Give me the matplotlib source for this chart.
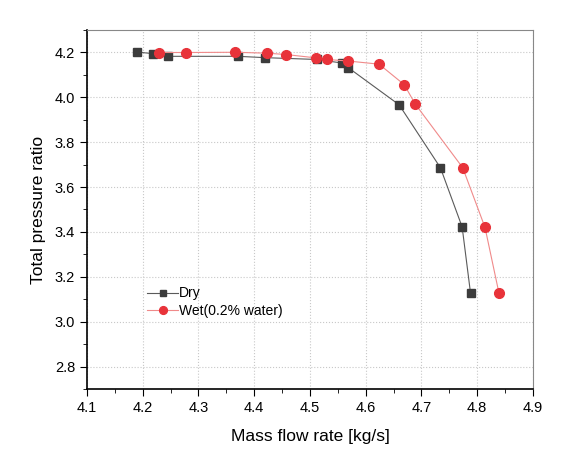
import matplotlib
matplotlib.use('Agg')
import matplotlib.pyplot as plt
from matplotlib.ticker import MultipleLocator

plt.rcParams['font.family'] = ['Liberation Sans', 'DejaVu Sans']

# Dry
dry_x = [4.190, 4.218, 4.246, 4.371, 4.420, 4.512, 4.558, 4.569, 4.660, 4.734, 4.773, 4.788]
dry_y = [4.201, 4.194, 4.182, 4.182, 4.176, 4.168, 4.152, 4.131, 3.966, 3.686, 3.422, 3.128]

# Wet (0.2% water)
wet_x = [4.229, 4.277, 4.366, 4.423, 4.457, 4.511, 4.530, 4.569, 4.624, 4.669, 4.689, 4.774, 4.814, 4.839]
wet_y = [4.199, 4.199, 4.200, 4.196, 4.190, 4.175, 4.168, 4.161, 4.147, 4.056, 3.969, 3.686, 3.420, 3.128]

fig = plt.figure(figsize=(5.61, 4.66), dpi=100)
ax = fig.add_axes([0.155, 0.165, 0.795, 0.771])

ax.plot(dry_x, dry_y, color='#5a5a5a', lw=0.8, marker='s', ms=6,
        mfc='#3c3c3c', mec='#3c3c3c', label='Dry')
ax.plot(wet_x, wet_y, color='#f08a8a', lw=0.8, marker='o', ms=7,
        mfc='#e8333a', mec='#e8333a', label='Wet(0.2% water)')

ax.set_xlim(4.1, 4.9)
ax.set_ylim(2.7, 4.3)
ax.xaxis.set_major_locator(MultipleLocator(0.1))
ax.xaxis.set_minor_locator(MultipleLocator(0.05))
ax.yaxis.set_major_locator(MultipleLocator(0.2))
ax.yaxis.set_minor_locator(MultipleLocator(0.1))
ax.grid(True, which='major', ls=':', color='#c8c8c8', lw=0.8)
ax.set_axisbelow(True)

ax.tick_params(which='both', direction='out', labelsize=10.5, top=False, right=False)
ax.tick_params(which='major', length=5)
ax.tick_params(which='minor', length=3)
for s in ['top', 'right']:
    ax.spines[s].set_color('#888888')
for s in ['left', 'bottom']:
    ax.spines[s].set_linewidth(1.2)

ax.set_xlabel('Mass flow rate [kg/s]', fontsize=12.5, labelpad=10)
ax.set_ylabel('Total pressure ratio', fontsize=12.5, labelpad=6)

ax.legend(loc='upper left', bbox_to_anchor=(0.12, 0.305), frameon=False,
          fontsize=10, handlelength=2.2, handletextpad=0.1, labelspacing=0.25,
          borderpad=0, markerscale=0.8)

fig.savefig('out.png', dpi=100)
